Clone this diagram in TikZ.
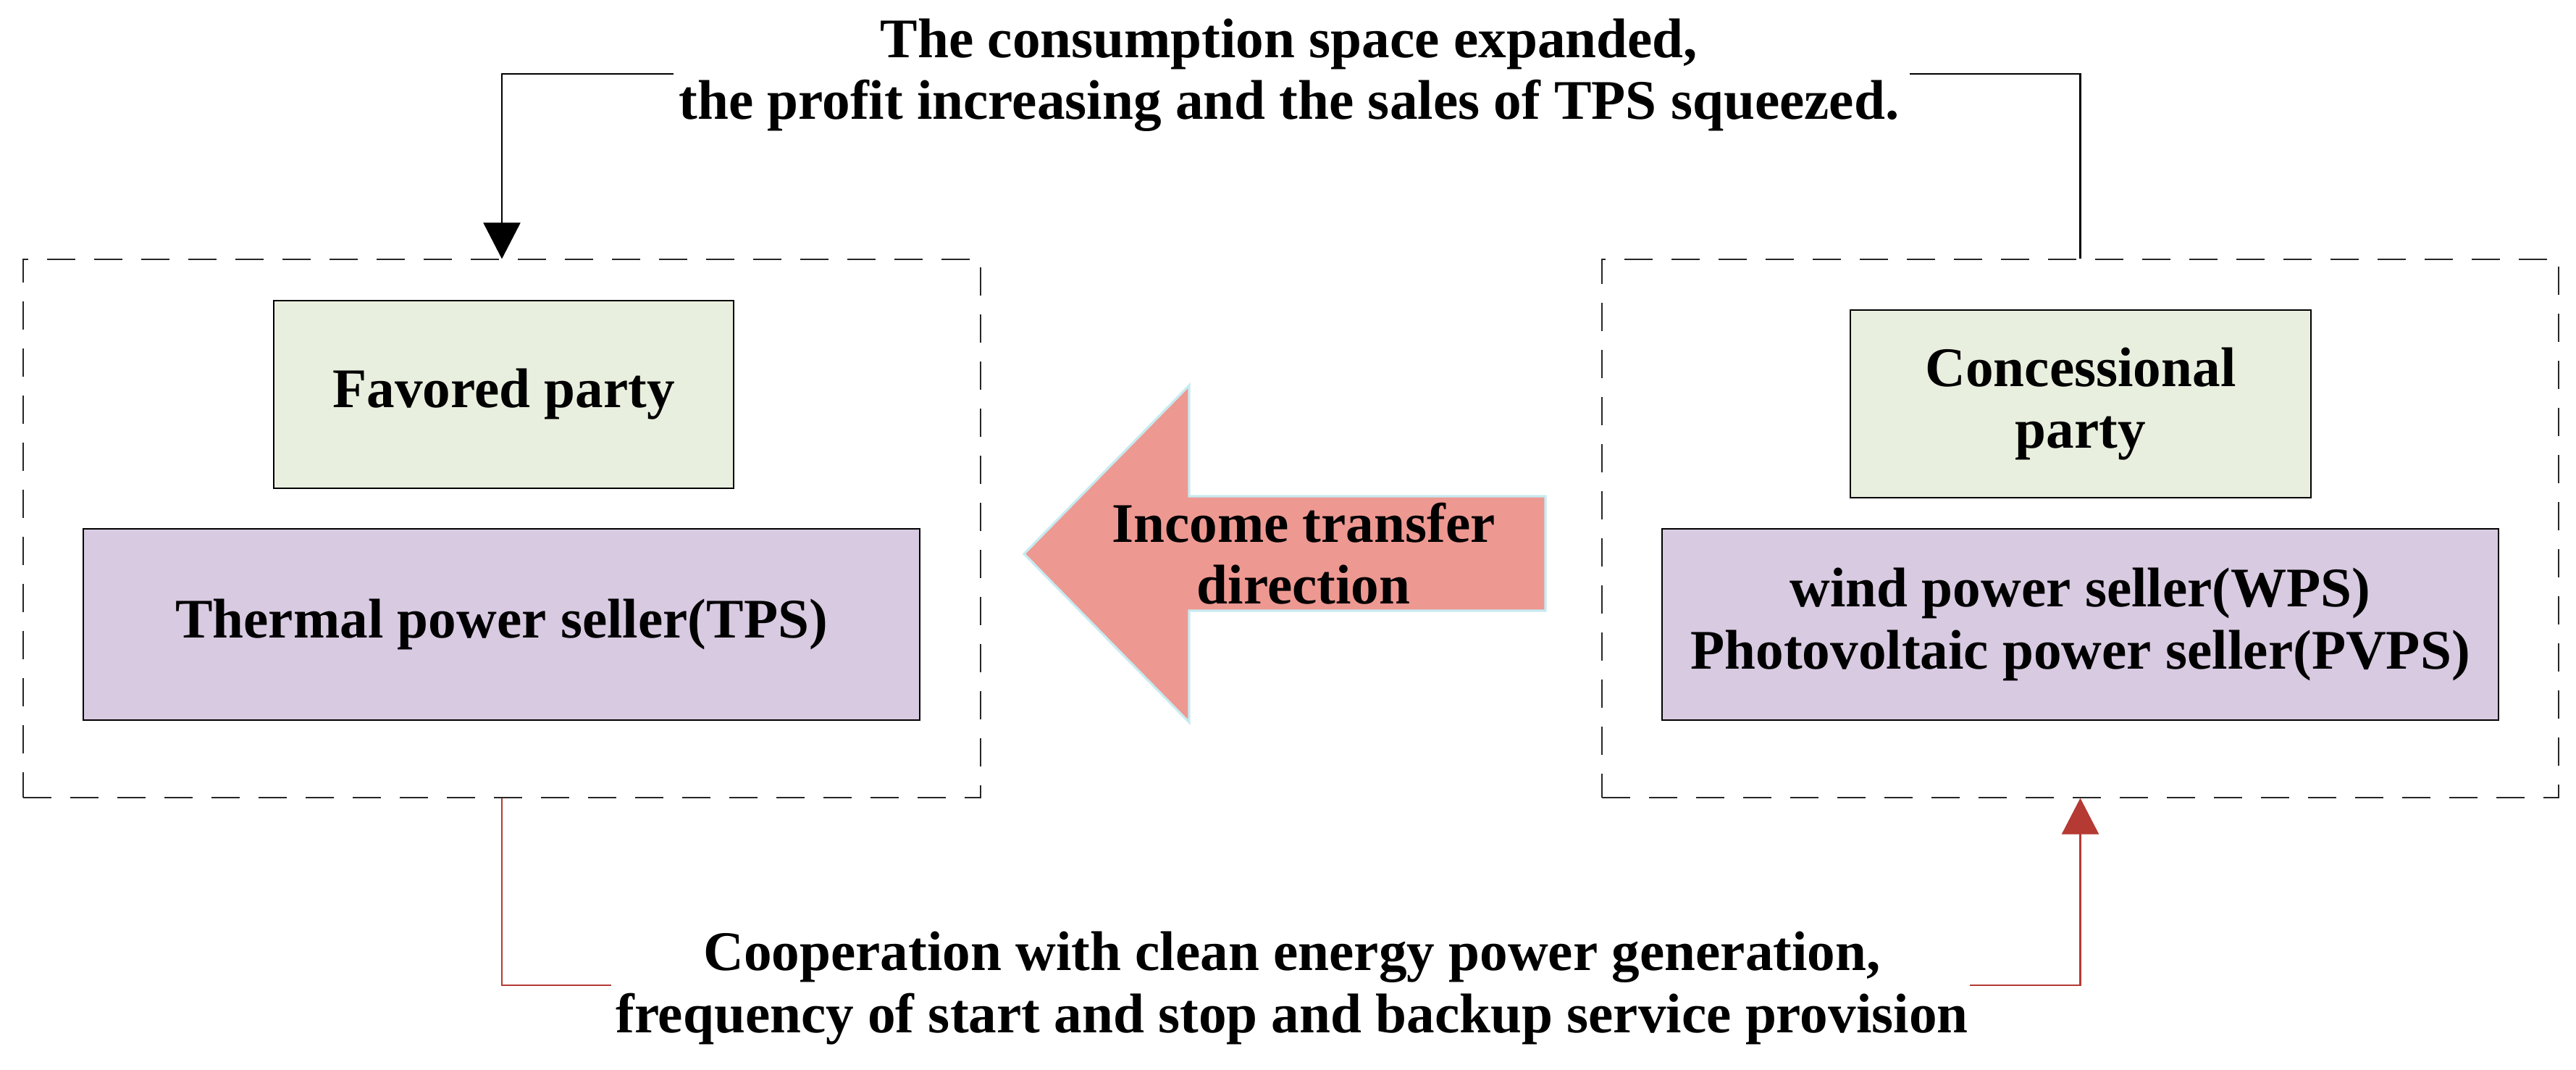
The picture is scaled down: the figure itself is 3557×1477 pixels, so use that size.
\documentclass[tikz,border=0pt]{standalone}
\usepackage{fontspec}
\setmainfont{Liberation Serif}
\usetikzlibrary{arrows.meta}
\definecolor{boxgreen}{HTML}{E9EFDE}
\definecolor{boxlav}{HTML}{D8CAE1}
\definecolor{arrowfill}{HTML}{EE9892}
\definecolor{arrowedge}{HTML}{C6EBF0}
\definecolor{conred}{HTML}{B53A33}
\tikzset{
  txt/.style={font=\fontsize{19.3}{21.3}\selectfont\bfseries, align=center, inner sep=0pt},
  solidbox/.style={draw=black, line width=0.55pt, inner sep=0pt, txt},
  greenbox/.style={solidbox, fill=boxgreen},
  lavbox/.style={solidbox, fill=boxlav},
  dbox/.style={draw=black!85, line width=0.3pt, dash pattern=on 9.75pt off 6.5pt, inner sep=0pt},
  blkline/.style={draw=black, line width=0.58pt},
  redline/.style={draw=conred, line width=0.62pt},
  tip/.style={-{Triangle[length=12.5pt,width=12.75pt]}}
}
\begin{document}
\begin{tikzpicture}[x=0.25pt,y=-0.25pt]
\useasboundingbox (0,0) rectangle (3557,1477);
% dashed group boxes
\node[dbox, minimum width=330.5pt, minimum height=185.75pt] (L) at (693,729.5) {};
\node[dbox, minimum width=330.25pt, minimum height=185.75pt] (R) at (2872.5,729.5) {};
% inner boxes
\node[greenbox, minimum width=158.75pt, minimum height=64.75pt] (fav) at (695.5,544.5) {Favored party};
\node[lavbox, minimum width=288.75pt, minimum height=66pt] (tps) at (692.5,862) {Thermal power seller(TPS)};
\node[greenbox, minimum width=159pt, minimum height=64.75pt] (con) at (2873,557.5) {Concessional\\party};
\node[lavbox, minimum width=288.75pt, minimum height=66pt] (wps) at (2872.5,862) {wind power seller(WPS)\\Photovoltaic power seller(PVPS)};
% big arrow
\draw[fill=arrowfill, draw=arrowedge, line width=0.8pt, line join=miter]
  (1414,764.5) -- (1642,532) -- (1642,685) -- (2134,685) -- (2134,843) -- (1642,843) -- (1642,997) -- cycle;
\node[txt] (inc) at (1800,764) {Income transfer\\direction};
% top text and connector
\node[txt] (toptext) at (1780,104) {The consumption space expanded,\\the profit increasing and the sales of TPS squeezed.};
\coordinate (t1) at (2637,102);
\coordinate (t2) at (930,102);
\draw[blkline] (R.north) |- (t1);
\draw[blkline, tip] (t2) -| (L.north);
% bottom text and connector
\node[txt] (bottext) at (1784,1364) {Cooperation with clean energy power generation,\\frequency of start and stop and backup service provision};
\coordinate (b1) at (844,1360);
\coordinate (b2) at (2720,1360);
\draw[redline] (L.south) |- (b1);
\draw[redline, -{Triangle[length=12.5pt,width=12.75pt,fill=conred]}] (b2) -| (R.south);
\end{tikzpicture}
\end{document}
